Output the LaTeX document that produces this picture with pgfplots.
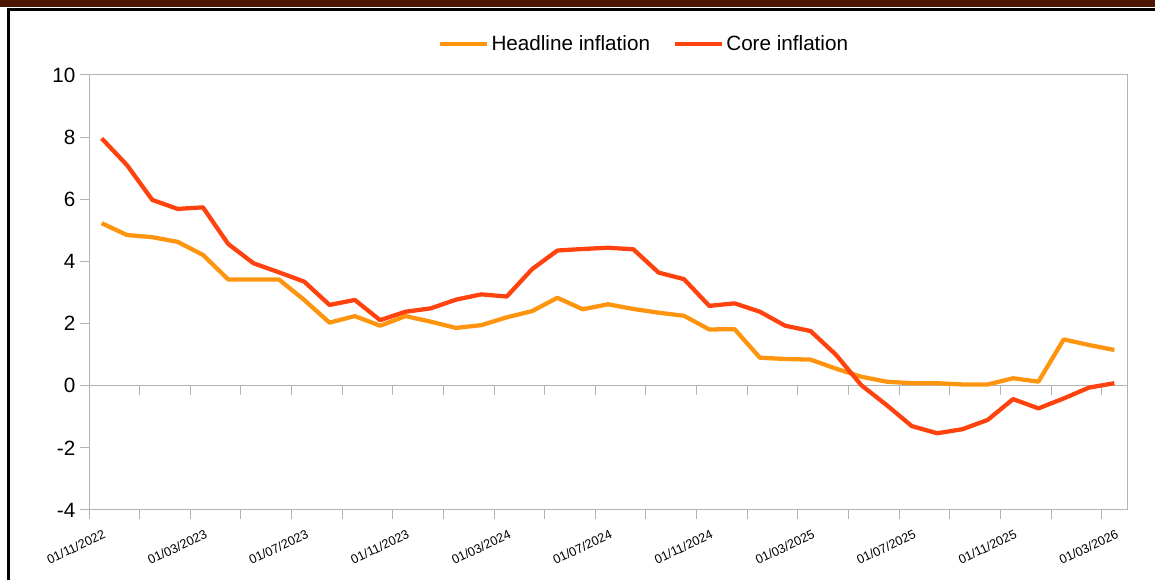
\documentclass[border=0pt]{standalone}
\usepackage{fontspec}
\setmainfont{Liberation Sans}
\usepackage{pgfplots}
\pgfplotsset{compat=1.18}
\definecolor{headline}{HTML}{FF950E}
\definecolor{core}{HTML}{FF420E}
\definecolor{axgray}{HTML}{B3B3B3}
\definecolor{banner}{HTML}{4A1800}

\begin{document}
\begin{tikzpicture}
\path[use as bounding box] (0,0) rectangle (866.25pt,435pt);
\fill[banner] (0,429.75pt) rectangle (866.25pt,435pt);
\draw[line width=2.25pt] (6.4pt,0) -- (6.4pt,427.5pt) -- (866.25pt,427.5pt);

\begin{axis}[
    scale only axis, width=778.5pt, height=326.25pt,
    at={(66.75pt,52.5pt)}, anchor=south west,
    xmin=0, xmax=41, ymin=-4, ymax=10,
    ytick={-4,-2,...,10},
    yticklabels={-4,-2,0,2,4,6,8,10},
    xtick={0,2,...,40},
    xticklabels={01/11/2022,,01/03/2023,,01/07/2023,,01/11/2023,,01/03/2024,,01/07/2024,,01/11/2024,,01/03/2025,,01/07/2025,,01/11/2025,,01/03/2026},
    axis line style={axgray, line width=0.75pt},
    tick style={axgray, line width=0.75pt},
    tick align=outside, major tick length=6.75pt,
    xtick pos=lower, ytick pos=lower,
    yticklabel style={font=\fontsize{15.5}{18}\selectfont},
    xticklabel style={font=\fontsize{9.5}{11}\selectfont, anchor=center, xshift=-9.75pt, yshift=-21pt, rotate=25},
    legend style={at={(0.535,1.0713)}, anchor=center, draw=none, fill=none,
        legend columns=2, font=\fontsize{15.5}{18}\selectfont,
        /tikz/every even column/.append style={column sep=15pt}},
    legend image code/.code={\draw[#1, line width=3.2pt] (0pt,0pt) -- (35pt,0pt);},
]
% zero line with its downward ticks
\draw[axgray, line width=0.75pt] (axis cs:0,0) -- (axis cs:41,0);
\pgfplotsinvokeforeach{0,2,4,6,8,10,12,14,16,18,20,22,24,26,28,30,32,34,36,38,40}{
  \draw[axgray, line width=0.75pt] (axis cs:#1,0) -- ([yshift=-6.75pt]axis cs:#1,0);
}

% headline inflation
\addplot[headline, line width=3.2pt, line join=round] coordinates {
(0.5,5.23)(1.5,4.85)(2.5,4.78)(3.5,4.63)(4.5,4.21)(5.5,3.42)(6.5,3.42)(7.5,3.42)
(8.5,2.76)(9.5,2.03)(10.5,2.24)(11.5,1.93)(12.5,2.24)(13.5,2.06)(14.5,1.86)(15.5,1.95)
(16.5,2.20)(17.5,2.40)(18.5,2.83)(19.5,2.46)(20.5,2.62)(21.5,2.47)(22.5,2.35)(23.5,2.25)
(24.5,1.81)(25.5,1.82)(26.5,0.90)(27.5,0.86)(28.5,0.84)(29.5,0.55)(30.5,0.29)(31.5,0.13)
(32.5,0.08)(33.5,0.08)(34.5,0.04)(35.5,0.04)(36.5,0.24)(37.5,0.13)(38.5,1.49)(39.5,1.31)
(40.5,1.15)};
\addlegendentry{Headline inflation}

% core inflation
\addplot[core, line width=3.2pt, line join=round] coordinates {
(0.5,7.96)(1.5,7.10)(2.5,5.98)(3.5,5.69)(4.5,5.74)(5.5,4.56)(6.5,3.94)(7.5,3.65)
(8.5,3.35)(9.5,2.60)(10.5,2.76)(11.5,2.11)(12.5,2.38)(13.5,2.49)(14.5,2.77)(15.5,2.94)
(16.5,2.87)(17.5,3.75)(18.5,4.35)(19.5,4.40)(20.5,4.44)(21.5,4.39)(22.5,3.64)(23.5,3.43)
(24.5,2.57)(25.5,2.65)(26.5,2.38)(27.5,1.93)(28.5,1.76)(29.5,1.00)(30.5,0.02)(31.5,-0.62)
(32.5,-1.30)(33.5,-1.53)(34.5,-1.40)(35.5,-1.10)(36.5,-0.43)(37.5,-0.73)(38.5,-0.41)(39.5,-0.06)
(40.5,0.08)};
\addlegendentry{Core inflation}
\end{axis}
\end{tikzpicture}
\end{document}
